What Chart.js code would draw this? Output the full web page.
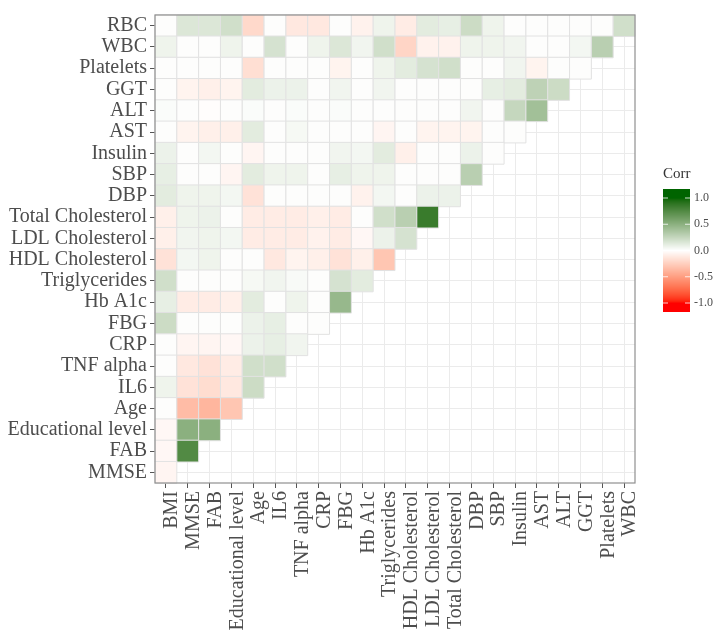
<!DOCTYPE html>
<html>
<head>
<meta charset="utf-8">
<script src="https://cdn.jsdelivr.net/npm/chart.js@4.4.1/dist/chart.umd.min.js"></script>
<style>
  body { margin: 0; background: #fff; }
  #wrap { width: 724px; height: 640px; }
</style>
</head>
<body>
<div id="wrap"><canvas id="corrChart" width="724" height="640"></canvas></div>
<script>
// variaveis no eixo x (colunas) e no eixo y (linhas, de cima para baixo)
const xLabels = ['BMI', 'MMSE', 'FAB', 'Educational level', 'Age', 'IL6', 'TNF alpha', 'CRP', 'FBG', 'Hb A1c',
  'Triglycerides', 'HDL Cholesterol', 'LDL Cholesterol', 'Total Cholesterol', 'DBP', 'SBP', 'Insulin',
  'AST', 'ALT', 'GGT', 'Platelets', 'WBC'];
const yLabels = ['RBC', 'WBC', 'Platelets', 'GGT', 'ALT', 'AST', 'Insulin', 'SBP', 'DBP', 'Total Cholesterol',
  'LDL Cholesterol', 'HDL Cholesterol', 'Triglycerides', 'Hb A1c', 'FBG', 'CRP', 'TNF alpha', 'IL6', 'Age',
  'Educational level', 'FAB', 'MMSE'];

// correlacoes de cada linha, na ordem das colunas (BMI, MMSE, FAB, ...)
const corrRBC = [0.01, 0.15, 0.15, 0.2, -0.2, 0.01, -0.12, -0.12, 0.01, -0.07, 0.07, -0.1, 0.12, 0.1, 0.22, 0.07, 0.01, 0.01, 0.01, 0.01, 0.01, 0.2];
const corrWBC = [0.07, 0.01, 0.01, 0.07, 0.01, 0.18, 0.01, 0.07, 0.15, 0.06, 0.2, -0.22, -0.07, -0.07, 0.07, 0.07, 0.06, 0.01, 0.01, 0.05, 0.3];
const corrPlatelets = [0.01, 0.01, 0.01, 0.01, -0.17, 0.01, 0.01, 0.01, -0.06, 0.01, 0.07, 0.12, 0.18, 0.2, 0.01, 0.01, 0.06, -0.06, 0.01, 0.01];
const corrGGT = [0.01, -0.06, -0.08, -0.06, 0.12, 0.08, 0.08, 0.01, 0.06, 0.01, 0.06, 0.01, 0.01, 0.01, 0.01, 0.1, 0.12, 0.28, 0.22];
const corrALT = [0.02, 0.01, -0.01, 0.01, 0.02, 0.01, 0.02, 0.01, 0.02, 0.01, 0.01, 0.01, 0.01, 0.01, 0.06, 0.01, 0.25, 0.4];
const corrAST = [0.01, -0.06, -0.08, -0.08, 0.12, 0.01, 0.04, 0.01, 0.01, 0.01, -0.05, 0.01, -0.06, -0.06, -0.06, 0.01, 0.01];
const corrInsulin = [0.08, 0.01, 0.05, 0.01, -0.05, 0.01, 0.01, 0.01, 0.06, 0.05, 0.12, -0.08, 0.01, 0.01, 0.08, 0.01];
const corrSBP = [0.1, 0.01, 0.01, -0.05, 0.12, 0.07, 0.07, 0.01, 0.1, 0.07, 0.07, 0.01, 0.01, 0.01, 0.3];
const corrDBP = [0.12, 0.07, 0.07, 0.05, -0.15, 0.01, 0.01, 0.01, 0.01, -0.07, 0.05, 0.01, 0.08, 0.08];
const corrTotalChol = [-0.08, 0.07, 0.08, 0.01, -0.1, -0.1, -0.1, -0.08, -0.1, 0.01, 0.2, 0.3, 0.85];
const corrLDL = [-0.08, 0.06, 0.07, 0.05, -0.1, -0.1, -0.1, -0.07, -0.1, -0.04, 0.08, 0.18];
const corrHDL = [-0.15, 0.05, 0.07, 0.01, 0.01, -0.12, -0.06, -0.08, -0.15, -0.08, -0.3];
const corrTrig = [0.2, 0.01, 0.01, 0.01, 0.04, 0.06, 0.03, 0.01, 0.18, 0.12];
const corrHbA1c = [0.1, -0.1, -0.1, -0.08, 0.12, 0.01, 0.07, 0.01, 0.45];
const corrFBG = [0.22, 0.01, 0.01, 0.01, 0.08, 0.1, 0.01, 0.01];
const corrCRP = [0.01, -0.05, -0.05, -0.04, 0.08, 0.1, 0.06];
const corrTNF = [0.01, -0.12, -0.15, -0.1, 0.2, 0.2];
const corrIL6 = [0.07, -0.15, -0.18, -0.12, 0.22];
const corrAge = [0.01, -0.35, -0.38, -0.3];
const corrEdu = [-0.04, 0.5, 0.5];
const corrFAB = [-0.04, 0.75];
const corrMMSE = [-0.05];

const legendTicks = [1.0, 0.5, 0.0, -0.5, -1.0];

const corrRows = [corrRBC, corrWBC, corrPlatelets, corrGGT, corrALT, corrAST, corrInsulin, corrSBP, corrDBP,
  corrTotalChol, corrLDL, corrHDL, corrTrig, corrHbA1c, corrFBG, corrCRP, corrTNF, corrIL6, corrAge,
  corrEdu, corrFAB, corrMMSE];

// escala de cor: vermelho - branco - verde escuro, interpolado em Lab (igual ao ggplot)
const lin = c => { c /= 255; return c <= 0.04045 ? c / 12.92 : Math.pow((c + 0.055) / 1.055, 2.4); };
const unlin = c => { c = c <= 0.0031308 ? 12.92 * c : 1.055 * Math.pow(c, 1 / 2.4) - 0.055; return Math.round(Math.max(0, Math.min(1, c)) * 255); };
const fLab = t => t > 0.008856 ? Math.cbrt(t) : 7.787 * t + 16 / 116;
const fInv = t => t > 0.206893 ? t * t * t : (t - 16 / 116) / 7.787;

function toLab(rgb) {
  const R = lin(rgb[0]), G = lin(rgb[1]), B = lin(rgb[2]);
  const X = (0.4124564 * R + 0.3575761 * G + 0.1804375 * B) / 0.95047;
  const Y = 0.2126729 * R + 0.7151522 * G + 0.0721750 * B;
  const Z = (0.0193339 * R + 0.1191920 * G + 0.9503041 * B) / 1.08883;
  return [116 * fLab(Y) - 16, 500 * (fLab(X) - fLab(Y)), 200 * (fLab(Y) - fLab(Z))];
}
function fromLab(lab) {
  const fy = (lab[0] + 16) / 116, fx = fy + lab[1] / 500, fz = fy - lab[2] / 200;
  const X = fInv(fx) * 0.95047, Y = fInv(fy), Z = fInv(fz) * 1.08883;
  const R = 3.2404542 * X - 1.5371385 * Y - 0.4985314 * Z;
  const G = -0.9692660 * X + 1.8760108 * Y + 0.0415560 * Z;
  const B = 0.0556434 * X - 0.2040259 * Y + 1.0572252 * Z;
  return 'rgb(' + unlin(R) + ',' + unlin(G) + ',' + unlin(B) + ')';
}
const labLow = toLab([255, 0, 0]);
const labMid = toLab([255, 255, 255]);
const labHigh = toLab([0, 100, 0]);

function corrColor(v) {
  const t = Math.min(1, Math.abs(v));
  const end = v >= 0 ? labHigh : labLow;
  return fromLab(labMid.map((m, i) => m + (end[i] - m) * t));
}

// monta os pontos (um quadrado por celula)
const cells = [];
corrRows.forEach((row, r) => {
  row.forEach((v, c) => cells.push({ x: xLabels[c], y: yLabels[r], v: v }));
});

const serif = "'Liberation Serif', 'DejaVu Serif', serif";

// moldura do painel + barra de cor da legenda
const extras = {
  id: 'extras',
  afterDraw(chart) {
    const ctx = chart.ctx;
    const a = chart.chartArea;
    ctx.save();
    ctx.strokeStyle = '#8f8f8f';
    ctx.lineWidth = 1.2;
    ctx.strokeRect(a.left, a.top, a.right - a.left, a.bottom - a.top);

    // legenda
    const bx = 663, bw = 27, top = 189, bottom = 312, y1 = 198, y2 = 303;
    for (let y = top; y < bottom; y++) {
      const v = Math.max(-1, Math.min(1, 1 - 2 * (y + 0.5 - y1) / (y2 - y1)));
      ctx.fillStyle = corrColor(v);
      ctx.fillRect(bx, y, bw, 1);
    }
    ctx.fillStyle = '#333';
    ctx.font = '15px ' + serif;
    ctx.textBaseline = 'middle';
    ctx.textAlign = 'left';
    ctx.fillText('Corr', 663, 174);
    ctx.font = '12px ' + serif;
    ctx.fillStyle = '#4d4d4d';
    ctx.strokeStyle = 'rgba(255,255,255,0.8)';
    ctx.lineWidth = 1;
    legendTicks.forEach(t => {
      const y = y1 + (1 - t) / 2 * (y2 - y1);
      ctx.fillText(t.toFixed(1), 694, y);
      ctx.beginPath();
      ctx.moveTo(bx, y); ctx.lineTo(bx + 5, y);
      ctx.moveTo(bx + bw - 5, y); ctx.lineTo(bx + bw, y);
      ctx.stroke();
    });
    ctx.restore();
  }
};

const ctx = document.getElementById('corrChart');
new Chart(ctx, {
  type: 'scatter',
  data: {
    datasets: [{
      data: cells,
      pointStyle: 'rect',
      pointRadius: c => {
        const xs = c.chart.scales.x;
        return xs ? (xs.width / xLabels.length) / Math.SQRT2 : 15;
      },
      backgroundColor: c => corrColor(c.raw ? c.raw.v : 0),
      borderColor: '#e2e2e2',
      borderWidth: 1
    }]
  },
  options: {
    responsive: false,
    animation: false,
    events: [],
    layout: { padding: { top: 7, right: 89, left: 0, bottom: 0 } },
    plugins: { legend: { display: false }, tooltip: { enabled: false } },
    scales: {
      x: {
        type: 'category',
        labels: xLabels,
        offset: true,
        afterFit: s => { s.height = 157; },
        border: { display: false },
        grid: { color: '#ebebeb', tickColor: '#555', tickLength: 5 },
        ticks: {
          autoSkip: false, minRotation: 90, maxRotation: 90, padding: 3, labelOffset: 6,
          color: '#4d4d4d', font: { family: serif, size: 20 }
        }
      },
      y: {
        type: 'category',
        labels: yLabels,
        offset: true,
        afterFit: s => { s.width = 155; },
        border: { display: false },
        grid: { color: '#ebebeb', tickColor: '#555', tickLength: 5 },
        ticks: {
          autoSkip: false, padding: 3,
          color: '#4d4d4d', font: { family: serif, size: 20 }
        }
      }
    }
  },
  plugins: [extras]
});
</script>
</body>
</html>
